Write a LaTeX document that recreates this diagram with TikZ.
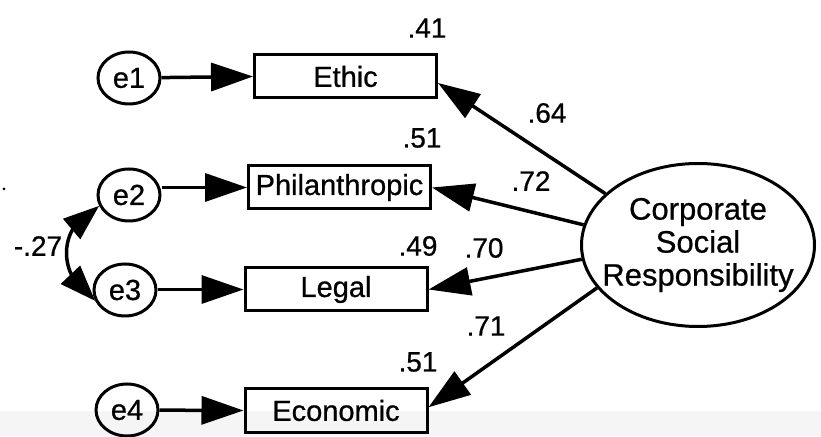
\documentclass[tikz,border=0pt]{standalone}
\usepackage{fontspec}
\setmainfont{Liberation Sans}
\usetikzlibrary{arrows.meta,bending,shapes.geometric}
\begin{document}
\begin{tikzpicture}[x=1pt,y=1pt,
  every node/.style={inner sep=0pt},
  lbl/.style={font=\fontsize{#1}{33}\selectfont\addfontfeatures{FakeBold=0.7}},
  obs/.style={draw, line width=3pt, rectangle, minimum width=182pt, minimum height=43pt, lbl=29},
  err/.style={draw, line width=3pt, ellipse, minimum width=62pt, minimum height=52pt, lbl=29},
  latent/.style={draw, line width=3pt, ellipse, minimum width=233pt, minimum height=163pt},
  csrtext/.style={align=center, lbl=31},
  coef/.style={lbl=28},
  load/.style={line width=3.5pt, -{Triangle[length=42pt,width=28pt]}},
  cov/.style={line width=3.5pt, {Triangle[length=36pt,width=26pt]}-{Triangle[length=36pt,width=26pt]}},
]
\useasboundingbox (0,0) rectangle (821,436);
\clip (0,0) rectangle (821,436);
\fill[black!4] (0,0) rectangle (821,25);

% stray mark on the left margin
\fill (4,247) circle (1.5);

% error terms
\node[err] (e1) at (129,358) {e1};
\node[err] (e2) at (129,241) {e2};
\node[err] (e3) at (125,146) {e3};
\node[err] (e4) at (127,26)  {e4};

% observed indicators
\node[obs] (ethic) at (345.5,359.5) {Ethic};
\node[obs] (phil)  at (339.5,248.5) {Philanthropic};
\node[obs] (legal) at (336,146.5)   {Legal};
\node[obs] (econ)  at (336,25.5)    {Economic};

% latent construct
\node[latent, label={[csrtext]center:{Corporate\\Social\\Responsibility}}] (csr) at (698,191) {};

% error paths
\draw[load] (e1) -- (ethic.west);
\draw[load] (e2.east |- phil.west) -- (phil.west);
\draw[load] (e3.east |- legal.west) -- (legal.west);
\draw[load] (e4) -- (econ.west);

% factor loadings
\draw[load] (csr.151) -- (ethic.-4);
\draw[load] (csr.170) -- (phil.east);
\draw[load] (csr.187) -- (legal.east);
\draw[load] (csr.203) -- (econ.2);

% error covariance
\draw[cov] (e2.200) .. controls (58.5,212.5) and (54.3,161.2) .. (e3.200);

% coefficients
\node[coef] (r1) at (427,408) {.41};
\node[coef] (r2) at (422,298) {.51};
\node[coef] (r3) at (418,190) {.49};
\node[coef] (r4) at (418,74)  {.51};
\node[coef] (l1) at (547,323) {.64};
\node[coef] (l2) at (531,255) {.72};
\node[coef] (l3) at (484,188) {.70};
\node[coef] (l4) at (486,110) {.71};
\node[coef] (c23) at (38,190) {-.27};
\end{tikzpicture}
\end{document}
